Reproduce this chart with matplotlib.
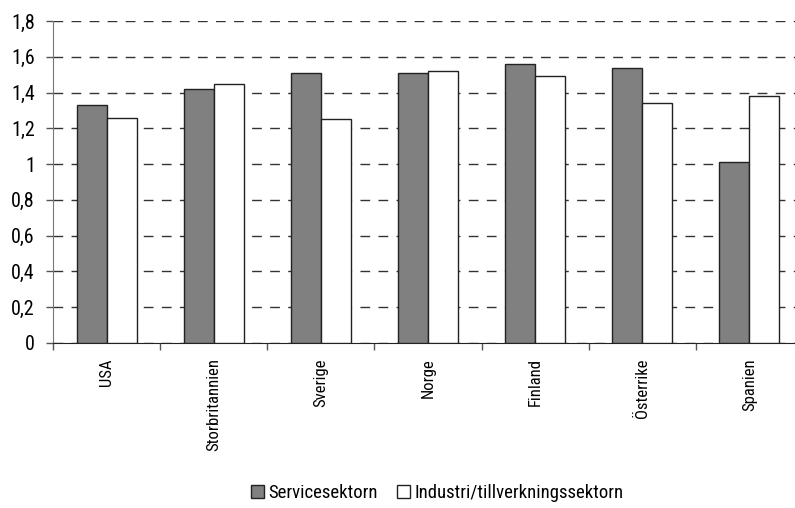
import matplotlib.pyplot as plt
import numpy as np
from matplotlib import font_manager

countries = ['USA', 'Storbritannien', 'Sverige', 'Norge', 'Finland', 'Österrike', 'Spanien']
service = [1.33, 1.42, 1.51, 1.51, 1.56, 1.54, 1.01]
industri = [1.26, 1.45, 1.25, 1.52, 1.49, 1.34, 1.38]
yticks = [0, 0.2, 0.4, 0.6, 0.8, 1, 1.2, 1.4, 1.6, 1.8]
ytick_labels = ['0', '0,2', '0,4', '0,6', '0,8', '1', '1,2', '1,4', '1,6', '1,8']

# pick a condensed sans if one is available
names = {f.name for f in font_manager.fontManager.ttflist}
family = 'DejaVu Sans'
for cand in ['Roboto Condensed', 'Archivo Narrow', 'PT Sans Narrow', 'Fira Sans Condensed',
             'Barlow Condensed', 'Liberation Sans Narrow']:
    if cand in names:
        family = cand
        break
plt.rcParams['font.family'] = [family, 'DejaVu Sans']
plt.rcParams['font.size'] = 13

fig = plt.figure(figsize=(7.95, 5.08), dpi=100)
ax = fig.add_axes([53 / 795, 165 / 508, 750 / 795, 322 / 508])

x = np.arange(len(countries))
w = 0.28
b1 = ax.bar(x - w / 2, service, w, color='#808080', edgecolor='#222222', linewidth=1,
            label='Servicesektorn', zorder=3)
b2 = ax.bar(x + w / 2, industri, w, color='white', edgecolor='#222222', linewidth=1,
            label='Industri/tillverkningssektorn', zorder=3)

ax.set_xlim(-0.5, len(countries) - 0.5)
ax.set_ylim(0, 1.8)
ax.set_yticks(yticks)
ax.set_yticklabels(ytick_labels, fontsize=14.5)
ax.set_xticks(x)
ax.set_xticklabels(countries, rotation=90, fontsize=12)
ax.set_xticks(np.arange(len(countries) + 1) - 0.5, minor=True)
ax.tick_params(axis='x', which='major', length=0, pad=11)
ax.tick_params(axis='x', which='minor', length=5, width=1, color='#555555')
ax.tick_params(axis='y', length=5, width=1, color='#555555', pad=8)

ax.yaxis.grid(True, linestyle=(0, (7, 6)), color='#333333', linewidth=1, zorder=0)
ax.set_axisbelow(True)
for s in ['top', 'right']:
    ax.spines[s].set_visible(False)
ax.spines['left'].set_color('#777777')
ax.spines['bottom'].set_color('#222222')

fig.legend(handles=[b1, b2], loc='center', bbox_to_anchor=(437 / 795, 1 - 493 / 508),
           ncol=2, frameon=False, handlelength=0.7, handleheight=0.7,
           handletextpad=0.25, columnspacing=1.0, fontsize=13.5)

fig.savefig('out.png', dpi=100)
